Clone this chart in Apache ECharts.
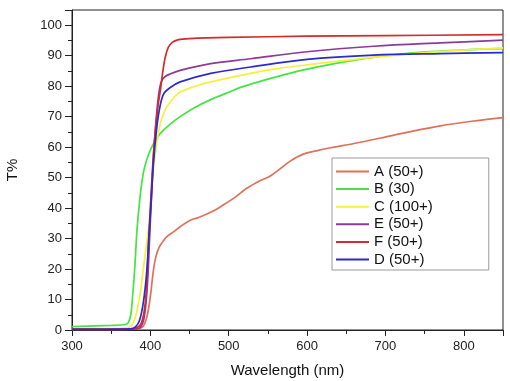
<!DOCTYPE html>
<html><head><meta charset="utf-8">
<script src="https://cdn.jsdelivr.net/npm/echarts@6/dist/echarts.min.js"></script>
<style>html,body{margin:0;padding:0;background:#fff}#c{width:510px;height:381px}</style>
</head><body><div id="c"></div>
<script>
const seriesNames = ['A (50+)', 'B (30)', 'C (100+)', 'E (50+)', 'F (50+)', 'D (50+)'];
const aData = [[300,0.2],[380,0.3],[390,1],[394,3],[397,6],[400,11],[404,19.7],[407,24],[411,27],[416,29],[421,30.6],[430,32.3],[438,33.9],[451,36],[460,36.8],[477,38.6],[493,41],[508,43.5],[523,46.5],[540,49],[553,50.5],[566,53],[579,55.5],[595,57.7],[612,58.8],[630,59.8],[660,61.2],[694,63],[730,65],[770,67],[810,68.5],[850,69.7]];
const bData = [[300,1.1],[350,1.5],[368,1.8],[372,2.5],[375,5],[377,10],[380,20],[383,33],[387,44],[391,51.5],[395,55.5],[400,59],[406,62],[413,64.6],[425,67.5],[438,70],[455,72.8],[477,75.6],[500,78],[515,79.6],[557,82.8],[600,85.6],[659,88.5],[728,90.8],[790,91.8],[850,92.3]];
const cData = [[300,0.4],[370,0.6],[376,1.5],[380,3.5],[383,6.5],[387,12],[391,20],[395,28],[398,34],[401,44],[404,53],[408,61],[412,67],[416,70.5],[421,73.2],[430,76.3],[438,78.1],[455,79.8],[477,81.4],[528,84.2],[557,85.6],[600,87],[664,88.9],[750,91],[850,92.6]];
const eData = [[300,0.2],[380,0.3],[387,0.8],[392,4],[396,14],[399,30],[402,47],[405,61],[408,71],[411,78],[414,81.5],[418,83],[425,84],[438,85.2],[477,87.4],[528,89],[600,91.3],[685,93.1],[770,94.2],[850,95.1]];
const fData = [[300,0.3],[350,0.3],[375,0.4],[383,0.8],[388,2],[392,6],[395,13],[398,30],[401,45],[404,58],[407,67],[410,74],[413,79],[416,85],[419,89.5],[423,92.8],[428,94.4],[435,95.2],[450,95.6],[500,96],[600,96.4],[700,96.6],[850,96.9]];
const dData = [[300,0.2],[375,0.4],[381,1],[386,3],[391,9],[395,18],[398,30],[401,42],[404,55],[408,66],[412,73],[417,77.5],[425,79.5],[438,81.4],[477,84.2],[528,86.3],[600,88.8],[685,90.2],[770,90.7],[850,91]];
const seriesData = [aData, bData, cData, eData, fData, dData];
const colors = ['#e0705a', '#44e444', '#f2f23a', '#8e3a96', '#d42b2b', '#2a2ad0'];
const xTicks = {min: 300, max: 850, interval: 100};
const yTicks = {min: 0, max: 105, interval: 10};

const font = 'Liberation Sans, Arial, sans-serif';
const chart = echarts.init(document.getElementById('c'), null, {renderer: 'canvas'});
chart.setOption({
  animation: false,
  backgroundColor: '#fff',
  grid: {left: 72, right: 7, top: 10, bottom: 51, show: true, borderColor: '#222', borderWidth: 1,
         containLabel: false, outerBoundsMode: 'none'},
  xAxis: {
    type: 'value', min: xTicks.min, max: xTicks.max, interval: xTicks.interval,
    name: 'Wavelength (nm)', nameLocation: 'middle', nameGap: 33,
    nameTextStyle: {fontFamily: font, fontSize: 15, color: '#111'},
    axisLine: {show: true, lineStyle: {color: '#222', width: 1}},
    axisTick: {show: true, inside: false, length: 6, lineStyle: {color: '#222'}},
    minorTick: {show: true, splitNumber: 2, length: 4, lineStyle: {color: '#222'}},
    splitLine: {show: false},
    axisLabel: {fontFamily: font, fontSize: 13, color: '#222', margin: 10, showMaxLabel: false}
  },
  yAxis: {
    type: 'value', min: yTicks.min, max: yTicks.max, interval: yTicks.interval,
    name: 'T%', nameLocation: 'middle', nameGap: 52, nameRotate: 90,
    nameTextStyle: {fontFamily: font, fontSize: 15, color: '#111'},
    axisLine: {show: true, lineStyle: {color: '#222', width: 1}},
    axisTick: {show: true, inside: false, length: 7, lineStyle: {color: '#222'}},
    minorTick: {show: true, splitNumber: 2, length: 4, lineStyle: {color: '#222'}},
    splitLine: {show: false},
    axisLabel: {fontFamily: font, fontSize: 13, color: '#222', margin: 10, showMaxLabel: false}
  },
  legend: {
    orient: 'vertical', left: 332, top: 158,
    data: seriesNames,
    icon: 'rect', itemWidth: 33, itemHeight: 2, itemGap: 2.6, itemTextGap: 4,
    padding: [6, 56, 3, 4],
    borderColor: '#999', borderWidth: 1, backgroundColor: '#fff',
    textStyle: {fontFamily: font, fontSize: 15, lineHeight: 15, color: '#111'}
  },
  series: seriesNames.map((n, i) => ({
    name: n, type: 'line', data: seriesData[i], showSymbol: false, symbol: 'none',
    smooth: 0.35,
    lineStyle: {color: colors[i], width: 1.7}, itemStyle: {color: colors[i]},
    z: 2
  }))
});
</script></body></html>
